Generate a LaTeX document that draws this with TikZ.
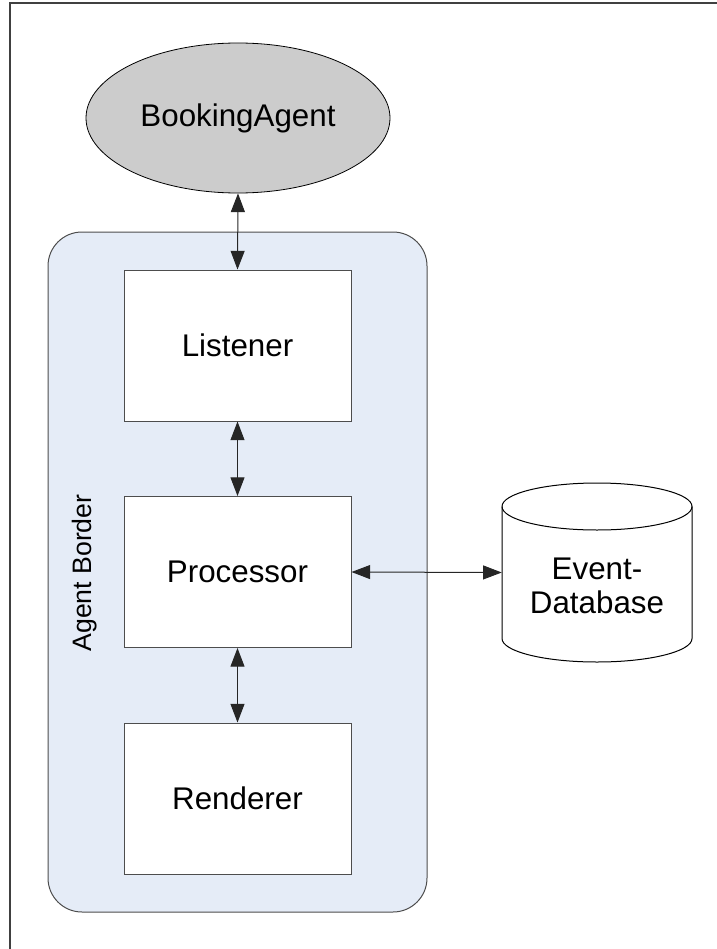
\documentclass[tikz,border=0pt]{standalone}
\usepackage{fontspec}
\setmainfont{Liberation Sans}
\usetikzlibrary{arrows.meta,shapes.geometric}

\definecolor{agentblue}{RGB}{229,236,247}
\definecolor{agentgray}{RGB}{204,204,204}
\definecolor{edgegray}{RGB}{77,77,77}
\definecolor{framegray}{RGB}{64,64,64}

\tikzset{
  label font/.style={font=\fontsize{23.5}{26}\selectfont},
  component/.style={draw=edgegray, line width=0.75pt, fill=white,
    minimum width=170.25pt, minimum height=113.25pt, inner sep=0pt,
    label font},
  agent/.style={ellipse, draw=black, line width=0.6pt, fill=agentgray,
    minimum width=228pt, minimum height=112.5pt, inner sep=0pt, label font},
  border/.style={draw=edgegray, line width=0.75pt, fill=agentblue,
    rounded corners=25.5pt},
  link/.style={draw=black!85, line width=0.75pt,
    {Triangle[width=10.5pt,length=14pt]}-{Triangle[width=10.5pt,length=14pt]}},
  frameline/.style={draw=framegray, line width=1.1pt},
}

\begin{document}
\begin{tikzpicture}[x=0.75pt,y=-0.75pt]
  \useasboundingbox (0,0) rectangle (717,949);

  % outer frame (top and left edges only)
  \draw[frameline] (9,3) -- (717,3);
  \draw[frameline] (10,3) -- (10,949);

  % agent container
  \draw[border] (48,232) rectangle (427,912);
  \node[rotate=90, font=\fontsize{20}{24}\selectfont] (bordertxt) at (85,573) {Agent Border};

  % external agent
  \node[agent] (booking) at (238,118) {BookingAgent};

  % internal components
  \node[component] (listener)  at (237.5,345.5) {Listener};
  \node[component] (processor) at (237.5,572)   {Processor};
  \node[component] (renderer)  at (237.5,798.5) {Renderer};

  % event database cylinder (y axis points down, so angle 90 is the lower side)
  \node[minimum width=142.5pt, minimum height=134.25pt, inner sep=0pt] (db) at (597,572.5) {};
  \draw[draw=black, line width=0.75pt, fill=white]
    (502,506.5) -- (502,638.5) arc[start angle=180, end angle=0, x radius=95, y radius=23.5]
    -- (692,506.5) arc[start angle=0, end angle=-180, x radius=95, y radius=23.5] -- cycle;
  \draw[draw=black, line width=0.75pt]
    (502,506.5) arc[start angle=180, end angle=0, x radius=95, y radius=23.5];
  \node[label font, align=center, inner sep=0pt] (dbtxt) at (597,586) {Event-\\Database};

  % connectors
  \draw[link] (booking.south) -- (listener.north);
  \draw[link] (listener.south) -- (processor.north);
  \draw[link] (processor.south) -- (renderer.north);
  \draw[link] (processor.east) -- (db.west);
\end{tikzpicture}
\end{document}
